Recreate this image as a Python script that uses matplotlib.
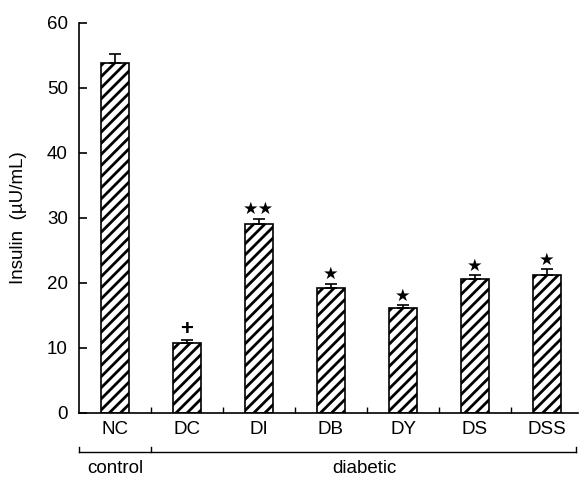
import matplotlib
matplotlib.use("Agg")
import matplotlib.pyplot as plt
import numpy as np

categories = ["NC", "DC", "DI", "DB", "DY", "DS", "DSS"]
values = [53.8, 10.8, 29.0, 19.2, 16.1, 20.6, 21.3]
errors = [1.5, 0.4, 0.9, 0.7, 0.5, 0.6, 0.8]
marks = ["", "+", "★★", "★", "★", "★", "★"]
yticks = [0, 10, 20, 30, 40, 50, 60]

plt.rcParams['font.family'] = ['Liberation Sans', 'DejaVu Sans']
plt.rcParams['hatch.linewidth'] = 2.0

fig = plt.figure(figsize=(5.8, 4.79), dpi=100)
ax = fig.add_axes([0.136, 0.1378, 0.8606, 0.8142])

x = np.arange(len(categories))
ax.bar(x, values, width=0.39, color='white', edgecolor='black', linewidth=1.2,
       hatch='///', zorder=2)
ax.errorbar(x, values, yerr=[np.zeros(len(values)), errors], fmt='none',
            ecolor='black', elinewidth=1.2, capsize=4, capthick=1.2, zorder=3)
for xi, v, e, m in zip(x, values, errors, marks):
    if m:
        if m == "+":
            ax.text(xi, v + e + 0.1, m, ha='center', va='bottom', fontsize=16,
                    fontweight='bold')
        else:
            ax.text(xi, v + e + 0.1, m, ha='center', va='bottom', fontsize=12.5,
                    family=['DejaVu Sans'])

fs = 13.5
ax.set_xlim(-0.5, 6.43)
ax.set_ylim(0, 60)
ax.set_yticks(yticks)
ax.set_yticklabels([str(t) for t in yticks], fontsize=fs)
ax.tick_params(axis='y', direction='in', length=6, width=1.2, pad=8)
ax.set_xticks(x)
ax.set_xticklabels(categories, fontsize=fs)
ax.tick_params(axis='x', which='major', length=0, pad=6)
ax.set_xticks(np.arange(0.5, 6.0, 1.0), minor=True)
ax.tick_params(axis='x', which='minor', direction='in', length=4, width=1.0)
for s in ['top', 'right']:
    ax.spines[s].set_visible(False)
ax.spines['left'].set_linewidth(1.2)
ax.spines['bottom'].set_linewidth(1.2)

ax.set_ylabel("Insulin  (µU/mL)", fontsize=fs, labelpad=14)

tr = ax.get_xaxis_transform()
yb = -0.1
ax.plot([-0.5, 6.4], [yb, yb], color='black', lw=1.0, transform=tr, clip_on=False)
ax.plot([-0.5, -0.5], [yb, yb + 0.014], color='black', lw=1.0, transform=tr, clip_on=False)
ax.plot([0.5, 0.5], [yb, yb + 0.014], color='black', lw=1.0, transform=tr, clip_on=False)
ax.plot([6.4, 6.4], [yb, yb + 0.014], color='black', lw=1.0, transform=tr, clip_on=False)
ax.text(0.0, -0.142, "control", transform=tr, ha='center', va='center', fontsize=fs)
ax.text(3.47, -0.142, "diabetic", transform=tr, ha='center', va='center', fontsize=fs)

fig.savefig("out.png", dpi=100)
